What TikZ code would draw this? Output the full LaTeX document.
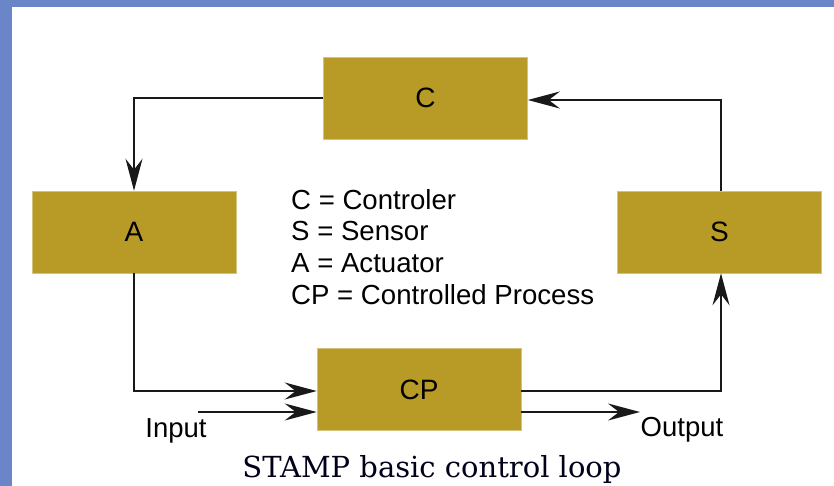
\documentclass[tikz,border=0pt]{standalone}
\usepackage{fontspec}
\setmainfont{Liberation Sans}
\newfontfamily\capfont{DejaVu Serif}
\usetikzlibrary{arrows.meta}
\definecolor{boxcol}{HTML}{B89B26}
\definecolor{framecol}{HTML}{6A85C8}
\tikzset{
  blockbox/.style={fill=boxcol, draw=boxcol!60, line width=0.6pt, minimum width=204pt, minimum height=82pt, inner sep=0pt, font=\fontsize{28}{32}\selectfont},
  conn/.style={line width=2pt, draw=black!90, -{Stealth[length=32pt,width=17pt,inset=11pt]}},
  lbl/.style={font=\fontsize{27.5}{32}\selectfont, inner sep=0pt},
}
\begin{document}
\begin{tikzpicture}[x=1pt,y=-1pt]
\useasboundingbox (0,0) rectangle (834,486);
\fill[framecol] (0,0) rectangle (834,7);
\fill[framecol] (0,0) rectangle (12,486);
\node[blockbox] (C) at (425.5,98) {C};
\node[blockbox] (A) at (134,232) {A};
\node[blockbox] (S) at (719.5,232) {S};
\node[blockbox] (CP) at (419,389.5) {CP};
\coordinate (in) at (198,412);
\coordinate (out) at (640,412);
\draw[conn] (C.west) -| (A.north);
\draw[conn] (A.south) |- ([yshift=-1.5pt]CP.west);
\draw[conn] (in) -- ([yshift=-22.5pt]CP.west);
\draw[conn] ([yshift=-1.5pt]CP.east) -| ([xshift=1.5pt]S.south);
\draw[conn] ([yshift=-22.5pt]CP.east) -- (out);
\draw[conn] ([xshift=1.5pt]S.north) |- ([yshift=-2pt]C.east);
\node[lbl, anchor=north west, align=left, font=\fontsize{27.6}{31.7}\selectfont] (legend) at (291,189) {C = Controler\\S = Sensor\\A = Actuator\\CP = Controlled Process};
\node[lbl] (input) at (176,431) {Input};
\node[lbl] (output) at (682,430) {Output};
\node[font=\capfont\fontsize{29}{31}\selectfont, text=black!90!blue, inner sep=0pt, anchor=base] (cap) at (432,477) {STAMP basic control loop};
\end{tikzpicture}
\end{document}
